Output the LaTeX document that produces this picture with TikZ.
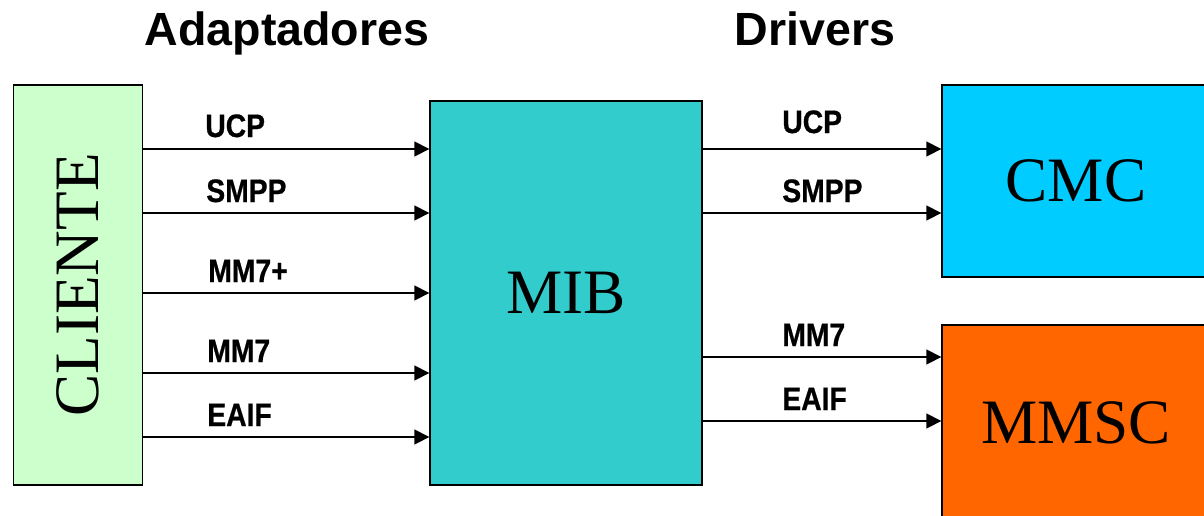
\documentclass[tikz,border=0pt]{standalone}
\usepackage{fontspec}
\setmainfont{Liberation Serif}
\setsansfont{Liberation Sans}
\newfontfamily\narrowsf[FakeStretch=0.87,BoldFeatures={FakeBold=0.6}]{Liberation Sans}
\usetikzlibrary{arrows.meta}

\tikzset{
  box/.style={draw=black, line width=0.8pt, inner sep=0pt,
    font=\fontsize{36}{40}\selectfont},
  arr/.style={line width=0.8pt, -{Triangle[length=8.5pt,width=8.5pt]}},
  proto/.style={anchor=base west, inner sep=0pt,
    font=\narrowsf\bfseries\fontsize{18.5}{20}\selectfont},
  title/.style={anchor=base, inner sep=0pt,
    font=\sffamily\bfseries\fontsize{26.5}{30}\selectfont}
}

\begin{document}
\begin{tikzpicture}[x=0.02cm,y=-0.02cm]

\useasboundingbox (0,0) rectangle (1204,515);
\clip (0,0) rectangle (1204,515);

% Titles
\node[title] (tadapt) at (287,45) {Adaptadores};
\node[title] (tdrv) at (815,45) {Drivers};

% Boxes
\node[box, fill={rgb,255:red,204;green,255;blue,204},
  minimum width=2.58cm, minimum height=8cm] (cliente) at (78,285)
{\rotatebox{90}{CLIENTE}};

\node[box, fill={rgb,255:red,51;green,204;blue,204},
  minimum width=5.44cm, minimum height=7.68cm] (mib) at (566,293)
{MIB};

\node[box, fill={rgb,255:red,0;green,204;blue,255},
  minimum width=5.36cm, minimum height=3.84cm] (cmc) at (1076,181)
{CMC};

\node[box, fill={rgb,255:red,255;green,102;blue,0},
  minimum width=5.36cm, minimum height=3.92cm] (mmsc) at (1076,423)
{MMSC};

% Adapter levels
\coordinate (a1) at (0,149);
\coordinate (a2) at (0,213);
\coordinate (a3) at (0,293);
\coordinate (a4) at (0,373);
\coordinate (a5) at (0,437);

\draw[arr] (cliente.east |- a1) -- (mib.west |- a1);
\draw[arr] (cliente.east |- a2) -- (mib.west |- a2);
\draw[arr] (cliente.east |- a3) -- (mib.west |- a3);
\draw[arr] (cliente.east |- a4) -- (mib.west |- a4);
\draw[arr] (cliente.east |- a5) -- (mib.west |- a5);

\node[proto] (lucp) at (205,137) {UCP};
\node[proto] (lsmpp) at (206,202) {SMPP};
\node[proto] (lmmp) at (208,282) {MM7+};
\node[proto] (lmm) at (207,362) {MM7};
\node[proto] (leaif) at (207,426) {EAIF};

% Driver levels
\coordinate (d1) at (0,149);
\coordinate (d2) at (0,213);
\coordinate (d3) at (0,357);
\coordinate (d4) at (0,421);

\draw[arr] (mib.east |- d1) -- (cmc.west |- d1);
\draw[arr] (mib.east |- d2) -- (cmc.west |- d2);
\draw[arr] (mib.east |- d3) -- (mmsc.west |- d3);
\draw[arr] (mib.east |- d4) -- (mmsc.west |- d4);

\node[proto] (rucp) at (782,133) {UCP};
\node[proto] (rsmpp) at (782,202) {SMPP};
\node[proto] (rmm) at (782,346) {MM7};
\node[proto] (reaif) at (782,410) {EAIF};

\end{tikzpicture}
\end{document}
